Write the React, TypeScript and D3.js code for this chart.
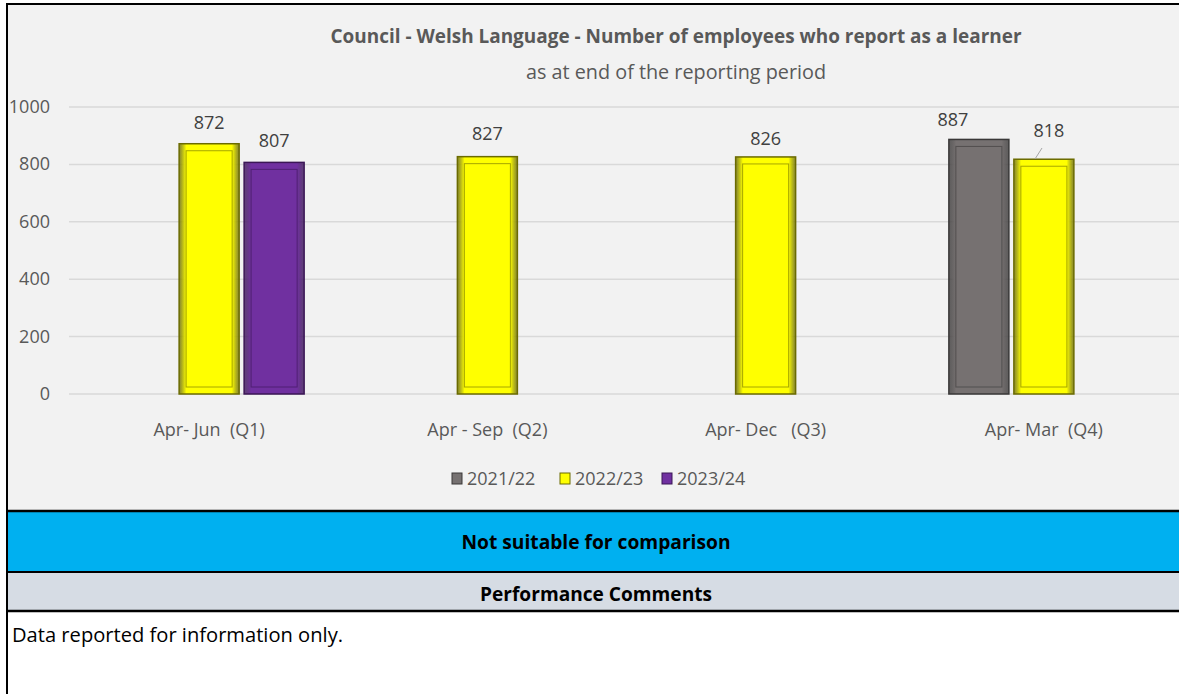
import React from "react";
import * as d3 from "d3";

const categories = ["Apr- Jun  (Q1)", "Apr - Sep  (Q2)", "Apr- Dec   (Q3)", "Apr- Mar  (Q4)"];
const seriesNames = ["2021/22", "2022/23", "2023/24"];
const values2122 = [null, null, null, 887];
const values2223 = [872, 827, 826, 818];
const values2324 = [807, null, null, null];
const yTicks = [0, 200, 400, 600, 800, 1000];

const colors = ["#767171", "#ffff00", "#7030a0"];
const edges = ["#3a3838", "#6b6b00", "#3b1656"];

const W = 1179;
const H = 694;
const FONT = "'Liberation Sans Narrow', 'Open Sans', Arial, sans-serif";

const Bar = ({ x, y, w, h, s }) => {
  const inset = 7;
  return (
    <g>
      <rect x={x} y={y} width={w} height={h} fill={`url(#bev${s})`} stroke={edges[s]} strokeWidth={1.5} />
      <rect
        x={x + inset}
        y={y + inset}
        width={w - inset * 2}
        height={h - inset * 2}
        fill={colors[s]}
        stroke={edges[s]}
        strokeOpacity={0.6}
        strokeWidth={1}
      />
    </g>
  );
};

const App = () => {
  const left = 70;
  const right = 1183;
  const top = 107;
  const bottom = 394;

  const x = d3.scaleBand().domain(categories).range([left, right]);
  const y = d3.scaleLinear().domain([0, 1000]).range([bottom, top]);
  const slot = 65;
  const barW = 60;

  const series = [values2122, values2223, values2324];
  // label nudges (the Excel chart moved a couple)
  const labelDx = [[0, 0, 0, -26], [0, 0, 0, 5], [0, 0, 0, 0]];
  const labelDy = [[0, 0, 0, -13], [-15, -17, -12, -22], [-15, 0, 0, 0]];

  const legendX = [452, 560, 662];

  return (
    <svg width={W} height={H} style={{ position: "absolute", left: 0, top: 0 }} fontFamily={FONT}>
      <defs>
        {colors.map((c, i) => (
          <linearGradient key={i} id={`bev${i}`} x1="0" x2="1" y1="0" y2="0">
            <stop offset="0" stopColor={edges[i]} stopOpacity={0.8} />
            <stop offset="0.12" stopColor={c} />
            <stop offset="0.88" stopColor={c} />
            <stop offset="1" stopColor={edges[i]} stopOpacity={0.8} />
          </linearGradient>
        ))}
      </defs>
      <rect x={0} y={0} width={W} height={H} fill="#ffffff" />
      <rect x={7} y={4} width={W} height={507} fill="#f2f2f2" />

      <text x={676} y={43} textAnchor="middle" fontSize={20} fontWeight="bold" fill="#595959" textLength={691} lengthAdjust="spacingAndGlyphs">
        Council - Welsh Language - Number of employees who report as a learner
      </text>
      <text x={676} y={79} textAnchor="middle" fontSize={20} fill="#595959" textLength={300} lengthAdjust="spacingAndGlyphs">
        as at end of the reporting period
      </text>

      {yTicks.map(t => (
        <g key={t}>
          <line x1={69} x2={W} y1={y(t)} y2={y(t)} stroke="#d9d9d9" strokeWidth={1.5} />
          <text x={50} y={y(t) + 6} textAnchor="end" fontSize={18} fill="#595959">
            {t}
          </text>
        </g>
      ))}

      {categories.map(c => (
        <text key={c} x={x(c) + x.bandwidth() / 2} y={436} textAnchor="middle" fontSize={18} fill="#595959" style={{ whiteSpace: "pre" }}>
          {c}
        </text>
      ))}

      {series.map((vals, s) =>
        vals.map((v, i) => {
          if (v == null) return null;
          const cx = x(categories[i]) + x.bandwidth() / 2 + (s - 1) * slot;
          return (
            <g key={`${s}-${i}`}>
              <Bar x={cx - barW / 2} y={y(v)} w={barW} h={bottom - y(v)} s={s} />
              <text
                x={cx + labelDx[s][i]}
                y={y(v) + labelDy[s][i]}
                textAnchor="middle"
                fontSize={18}
                fill="#404040"
              >
                {v}
              </text>
            </g>
          );
        })
      )}
      {/* leader line for the moved 818 label */}
      <line x1={1042} x2={1035} y1={148} y2={159} stroke="#a6a6a6" strokeWidth={1} />

      {seriesNames.map((n, i) => (
        <g key={n}>
          <rect x={legendX[i]} y={473} width={10} height={11} fill={colors[i]} stroke={edges[i]} strokeWidth={1} />
          <text x={legendX[i] + 15} y={485} fontSize={18} fill="#595959">
            {n}
          </text>
        </g>
      ))}

      <rect x={7} y={512} width={W} height={59} fill="#00b0f0" />
      <rect x={7} y={573} width={W} height={37} fill="#d6dce4" />
      <line x1={7} x2={W} y1={511} y2={511} stroke="#000" strokeWidth={2.5} />
      <line x1={7} x2={W} y1={572} y2={572} stroke="#000" strokeWidth={2} />
      <line x1={7} x2={W} y1={611} y2={611} stroke="#000" strokeWidth={2.5} />
      <line x1={7} x2={W} y1={4} y2={4} stroke="#000" strokeWidth={2} />
      <line x1={7} x2={7} y1={3} y2={H} stroke="#000" strokeWidth={2} />

      <text x={596} y={549} textAnchor="middle" fontSize={20} fontWeight="bold" fill="#000" textLength={269} lengthAdjust="spacingAndGlyphs">
        Not suitable for comparison
      </text>
      <text x={596} y={601} textAnchor="middle" fontSize={20} fontWeight="bold" fill="#000" textLength={232} lengthAdjust="spacingAndGlyphs">
        Performance Comments
      </text>
      <text x={12} y={642} fontSize={20} fill="#000" textLength={331} lengthAdjust="spacingAndGlyphs">
        Data reported for information only.
      </text>
    </svg>
  );
};

export default App;
